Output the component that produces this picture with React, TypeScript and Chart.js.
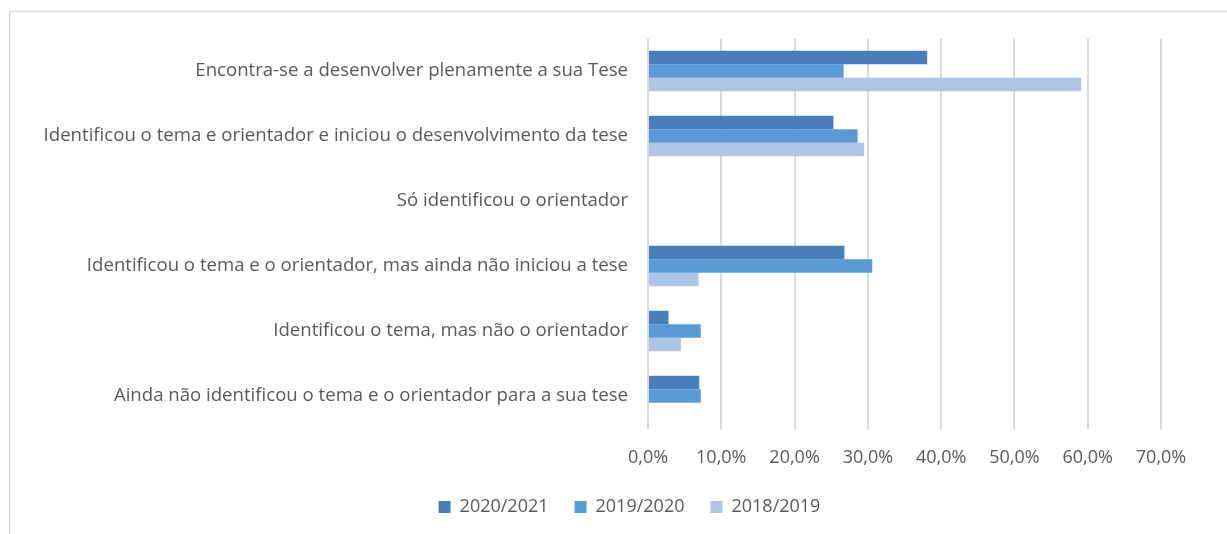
import React, { useEffect, useRef } from "react";
import { Chart, registerables } from "chart.js";

Chart.register(...registerables);

const categories = [
  "Encontra-se a desenvolver plenamente a sua Tese",
  "Identificou o tema e orientador e iniciou o desenvolvimento da tese",
  "Só identificou o orientador",
  "Identificou o tema e o orientador, mas ainda não iniciou a tese",
  "Identificou o tema, mas não o orientador",
  "Ainda não identificou o tema e o orientador para a sua tese",
];

const seriesNames = ["2020/2021", "2019/2020", "2018/2019"];
const values2020_2021: (number | null)[] = [38.1, 25.3, null, 26.8, 2.8, 7.0];
const values2019_2020: (number | null)[] = [26.7, 28.6, null, 30.6, 7.2, 7.2];
const values2018_2019: (number | null)[] = [59.1, 29.5, null, 6.9, 4.5, null];

const xTicks = [0, 10, 20, 30, 40, 50, 60, 70];

const colors = ["#4A7EBB", "#5B9BD5", "#ADC6E6"];

const FONT = "'Open Sans', 'Liberation Sans', Arial, sans-serif";
const TEXT = "#595959";

const frame = {
  id: "frame",
  beforeDraw(chart: any) {
    const ctx = chart.ctx;
    ctx.save();
    ctx.fillStyle = "#ffffff";
    ctx.fillRect(0, 0, chart.width, chart.height);
    ctx.strokeStyle = "#D9D9D9";
    ctx.lineWidth = 1.5;
    ctx.beginPath();
    ctx.moveTo(9.5, chart.height + 2);
    ctx.lineTo(9.5, 11.5);
    ctx.lineTo(chart.width + 2, 11.5);
    ctx.stroke();
    ctx.restore();
  },
  afterLayout(chart: any) {
    const lg = chart.legend;
    if (lg) {
      lg.left = 98;
      lg.right = chart.chartArea.right;
      lg.width = lg.right - lg.left;
    }
  },
};

export default function App() {
  const ref = useRef<HTMLCanvasElement>(null);
  useEffect(() => {
    document.body.style.margin = "0";
    const data = [values2020_2021, values2019_2020, values2018_2019];
    const chart = new Chart(ref.current!, {
      type: "bar",
      data: {
        labels: categories,
        datasets: seriesNames.map((n, i) => ({
          label: n,
          data: data[i],
          backgroundColor: colors[i],
          borderWidth: 0,
          barPercentage: 1,
          categoryPercentage: 0.62,
        })),
      },
      options: {
        indexAxis: "y",
        responsive: false,
        animation: false,
        layout: { padding: { left: 0, right: 66, top: 38.5, bottom: 8 } },
        plugins: {
          tooltip: { enabled: false },
          legend: {
            position: "bottom",
            labels: {
              boxWidth: 12,
              boxHeight: 12,
              padding: 26,
              color: TEXT,
              font: { family: FONT, size: 18 },
            },
          },
        },
        scales: {
          x: {
            min: 0,
            max: 70,
            afterBuildTicks: (s: any) => {
              s.ticks = xTicks.map((v) => ({ value: v }));
            },
            afterFit: (s: any) => {
              s.height = 43.5;
            },
            ticks: {
              color: TEXT,
              padding: 19,
              font: { family: FONT, size: 18 },
              callback: (v: any) => Number(v).toFixed(1).replace(".", ",") + "%",
            },
            grid: { color: "#D9D9D9", lineWidth: 2, drawTicks: false },
            border: { display: false },
          },
          y: {
            afterFit: (s: any) => {
              s.width = 648;
            },
            ticks: {
              color: TEXT,
              padding: 20,
              font: { family: FONT, size: 18.6 },
            },
            grid: { display: false, drawTicks: false },
            border: { display: false },
          },
        },
      },
      plugins: [frame],
    });
    return () => chart.destroy();
  }, []);
  return <canvas ref={ref} width={1227} height={534} style={{ display: "block" }} />;
}
